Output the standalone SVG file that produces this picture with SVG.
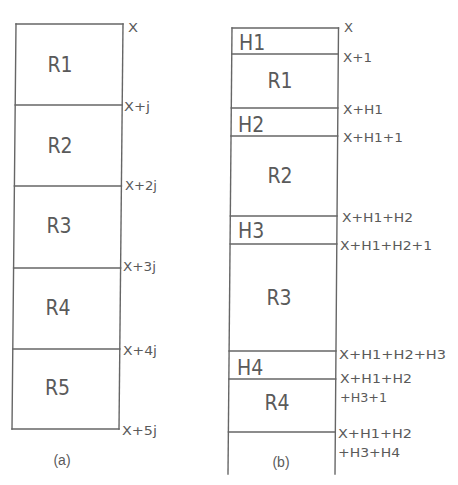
<svg xmlns="http://www.w3.org/2000/svg" width="458" height="485" viewBox="0 0 458 485">
<style>
.ln{stroke:#666666;stroke-width:1.4;fill:none;stroke-linecap:square}
.big{font-family:"DejaVu Sans Condensed","DejaVu Sans",sans-serif;font-size:21px;fill:#5a5a5a}
.bigc{font-family:"DejaVu Sans Condensed","DejaVu Sans",sans-serif;font-size:21px;fill:#5a5a5a;text-anchor:middle}
.sm{font-family:"DejaVu Sans Condensed","DejaVu Sans",sans-serif;font-size:13px;fill:#5a5a5a}
.cap{font-family:"Liberation Sans",Arial,sans-serif;font-size:14px;fill:#5a5a5a;text-anchor:middle}
</style>
<rect width="458" height="485" fill="#ffffff"/>
<g id="diagram-a">
  <g id="a-frame">
    <line class="ln" x1="16" y1="24" x2="123" y2="24"/>
    <line class="ln" x1="16" y1="24" x2="12" y2="429"/>
    <line class="ln" x1="123" y1="24" x2="119" y2="429"/>
    <line class="ln" x1="12" y1="429" x2="119" y2="429"/>
  </g>
  <g id="a-r1"><text class="bigc" x="60" y="72">R1</text></g>
  <g id="a-r2"><line class="ln" x1="15.2" y1="105" x2="122.2" y2="105"/><text class="bigc" x="60" y="153">R2</text></g>
  <g id="a-r3"><line class="ln" x1="14.4" y1="186" x2="121.4" y2="186"/><text class="bigc" x="59" y="233">R3</text></g>
  <g id="a-r4"><line class="ln" x1="13.6" y1="268" x2="120.6" y2="268"/><text class="bigc" x="58" y="315">R4</text></g>
  <g id="a-r5"><line class="ln" x1="12.8" y1="349" x2="119.8" y2="349"/><text class="bigc" x="57.5" y="395">R5</text></g>
  <g id="a-labels">
    <text class="sm" x="128" y="32" textLength="10" lengthAdjust="spacingAndGlyphs">X</text>
    <text class="sm" x="124" y="111" textLength="26" lengthAdjust="spacingAndGlyphs">X+j</text>
    <text class="sm" x="125" y="190" textLength="32" lengthAdjust="spacingAndGlyphs">X+2j</text>
    <text class="sm" x="123" y="271" textLength="33" lengthAdjust="spacingAndGlyphs">X+3j</text>
    <text class="sm" x="123" y="355" textLength="34" lengthAdjust="spacingAndGlyphs">X+4j</text>
    <text class="sm" x="122" y="435" textLength="35" lengthAdjust="spacingAndGlyphs">X+5j</text>
  </g>
  <text class="cap" x="62" y="465">(a)</text>
</g>
<g id="diagram-b">
  <g id="b-frame">
    <line class="ln" x1="232" y1="28" x2="338.5" y2="28"/>
    <line class="ln" x1="232" y1="28" x2="228" y2="474"/>
    <line class="ln" x1="338.5" y1="28" x2="335" y2="474"/>
  </g>
  <g id="b-h1"><text class="big" x="239" y="50">H1</text></g>
  <g id="b-r1"><line class="ln" x1="231.8" y1="54" x2="338.3" y2="54"/><text class="bigc" x="280" y="88">R1</text></g>
  <g id="b-h2"><line class="ln" x1="231.3" y1="108" x2="337.9" y2="108"/><text class="big" x="238" y="132">H2</text></g>
  <g id="b-r2"><line class="ln" x1="231" y1="136" x2="337.7" y2="136"/><text class="bigc" x="280" y="183">R2</text></g>
  <g id="b-h3"><line class="ln" x1="230.3" y1="216" x2="337" y2="216"/><text class="big" x="238" y="238">H3</text></g>
  <g id="b-r3"><line class="ln" x1="230.1" y1="244" x2="336.8" y2="244"/><text class="bigc" x="279" y="305">R3</text></g>
  <g id="b-h4"><line class="ln" x1="229.1" y1="351" x2="336" y2="351"/><text class="big" x="237" y="375">H4</text></g>
  <g id="b-r4"><line class="ln" x1="228.9" y1="379" x2="335.7" y2="379"/><text class="bigc" x="277" y="410">R4</text></g>
  <g id="b-next"><line class="ln" x1="228.4" y1="432" x2="335.3" y2="432"/></g>
  <g id="b-labels">
    <text class="sm" x="344" y="32" textLength="9" lengthAdjust="spacingAndGlyphs">X</text>
    <text class="sm" x="343" y="62" textLength="29" lengthAdjust="spacingAndGlyphs">X+1</text>
    <text class="sm" x="343" y="114" textLength="40" lengthAdjust="spacingAndGlyphs">X+H1</text>
    <text class="sm" x="343" y="142" textLength="60" lengthAdjust="spacingAndGlyphs">X+H1+1</text>
    <text class="sm" x="342" y="222" textLength="71" lengthAdjust="spacingAndGlyphs">X+H1+H2</text>
    <text class="sm" x="340" y="250" textLength="92" lengthAdjust="spacingAndGlyphs">X+H1+H2+1</text>
    <text class="sm" x="339" y="359" textLength="107" lengthAdjust="spacingAndGlyphs">X+H1+H2+H3</text>
    <text class="sm" x="340" y="383" textLength="72" lengthAdjust="spacingAndGlyphs">X+H1+H2</text>
    <text class="sm" x="340" y="402" textLength="47" lengthAdjust="spacingAndGlyphs">+H3+1</text>
    <text class="sm" x="338" y="438" textLength="74" lengthAdjust="spacingAndGlyphs">X+H1+H2</text>
    <text class="sm" x="338" y="457" textLength="62" lengthAdjust="spacingAndGlyphs">+H3+H4</text>
  </g>
  <text class="cap" x="281" y="467">(b)</text>
</g>
</svg>
